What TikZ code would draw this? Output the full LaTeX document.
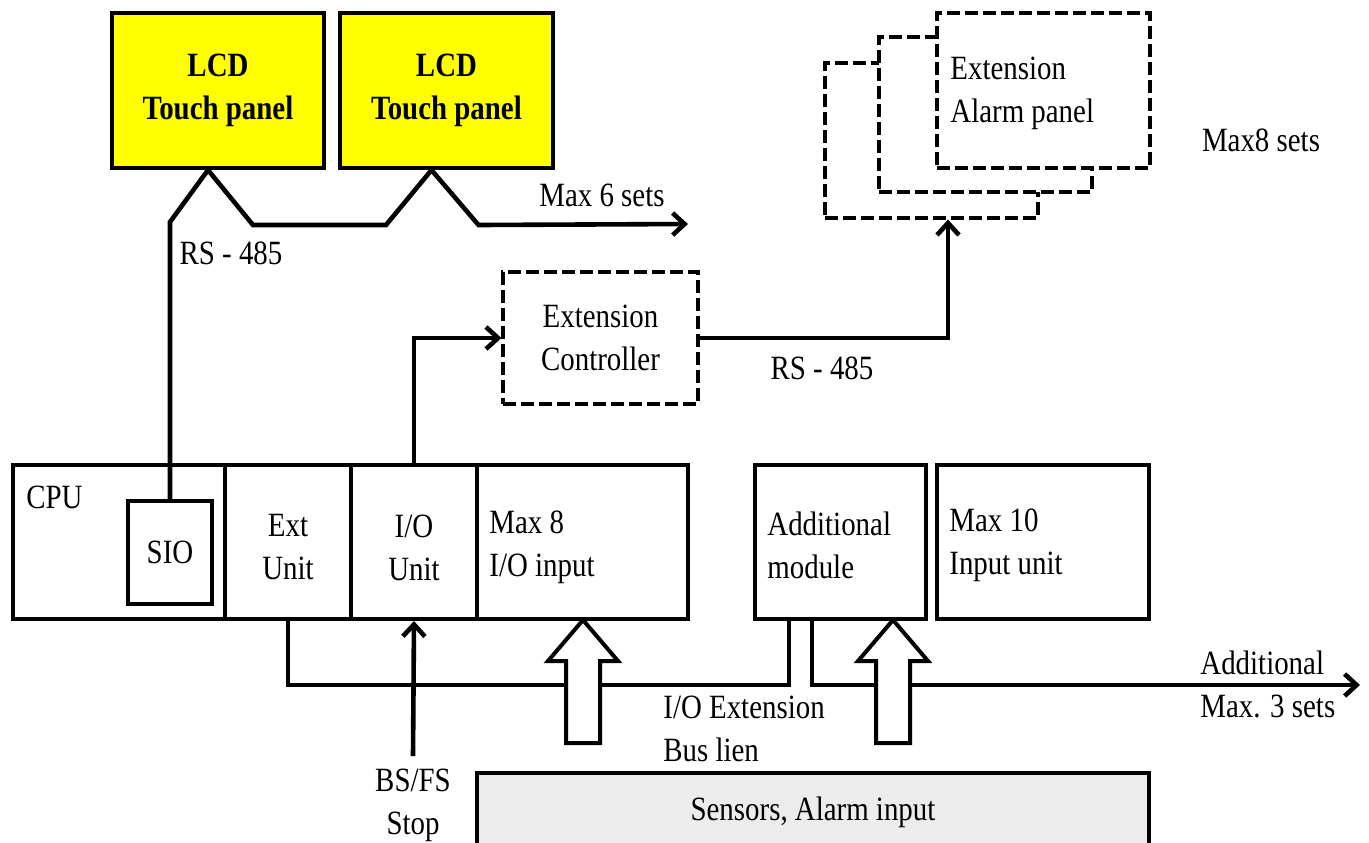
\documentclass[tikz,border=0pt]{standalone}
\usepackage{fontspec}
\setmainfont{Liberation Serif}[FakeStretch=0.85]
\usetikzlibrary{arrows.meta}
\definecolor{lcdyellow}{HTML}{FFFF00}
\definecolor{sensgray}{HTML}{ECECEC}
\tikzset{
  every node/.style={font=\fontsize{17}{21.5}\selectfont, inner sep=0pt},
  box/.style={draw, line width=2pt},
  dbox/.style={draw, fill=white, line width=1.6pt, dash pattern=on 6.5pt off 2.5pt},
  wire/.style={line width=2.3pt},
  arr/.style={wire, -{Straight Barb[length=6pt,width=11pt,line width=2.3pt]}},
  blockarrow/.style={draw, fill=white, line width=2pt, line join=miter},
  lbl/.style={align=center},
  lbll/.style={align=left, anchor=west}
}
\begin{document}
\begin{tikzpicture}[x=0.5pt,y=-0.5pt]
\clip (0,0) rectangle (1369,842);
\fill[white] (0,0) rectangle (1369,842);

% LCD panels
\node[box, fill=lcdyellow, minimum width=106pt, minimum height=77.5pt, lbl, font=\fontsize{17}{21.5}\selectfont\bfseries] (lcd1) at (218,90.5) {LCD\\Touch panel};
\node[box, fill=lcdyellow, minimum width=106.5pt, minimum height=77.5pt, lbl, font=\fontsize{17}{21.5}\selectfont\bfseries] (lcd2) at (446.5,90.5) {LCD\\Touch panel};

% Extension alarm panels (back to front)
\node[dbox, minimum width=106.5pt, minimum height=77.5pt] (panel3) at (931.5,140.5) {};
\node[dbox, minimum width=106.5pt, minimum height=77.5pt] (panel2) at (985.5,114.5) {};
\node[dbox, minimum width=106.5pt, minimum height=77.5pt] (panel1) at (1043.5,90.5) {};
\node[lbll] (paneltxt) at (950,93) {Extension\\Alarm panel};
\node[lbl] (max8sets) at (1261,140) {Max8 sets};

% Extension controller
\node[dbox, minimum width=97.5pt, minimum height=66pt, lbl] (extc) at (600.5,338) {Extension\\Controller};

% CPU row
\node[box, minimum width=106pt, minimum height=77pt] (cpu) at (119,542) {};
\node[box, minimum width=63pt, minimum height=77pt] (ext) at (288,542) {};
\node[box, minimum width=63pt, minimum height=77pt] (io) at (414,542) {};
\node[box, minimum width=105.5pt, minimum height=77pt] (max8) at (582.5,542) {};
\node[anchor=west] (cputxt) at (26,497) {CPU};
\node[lbl] (exttxt) at (288,547.5) {Ext\\Unit};
\node[lbl] (iotxt) at (414,547.5) {I/O\\Unit};
\node[box, minimum width=42pt, minimum height=51.5pt] (sio) at (170,552.5) {SIO};
\node[lbll] (max8txt) at (489,547.5) {Max 8\\I/O input};

\node[box, minimum width=85.5pt, minimum height=77pt] (addl) at (840.5,542) {};
\node[lbll] (addltxt) at (767,545) {Additional\\module};
\node[box, minimum width=106pt, minimum height=77pt] (max10) at (1043,542) {};
\node[lbll] (max10txt) at (949,545) {Max 10\\Input unit};

% Sensors
\node[box, fill=sensgray, minimum width=336pt, minimum height=39pt] (sens) at (813,812) {Sensors, Alarm input};

% labels
\node[lbl] (max6) at (602,195) {Max 6 sets};
\node[lbl] (rs1) at (231,253) {RS - 485};
\node[lbl] (rs2) at (822,368) {RS - 485};
\node[lbll] (busl) at (663,728.5) {I/O Extension\\Bus lien};
\node[lbll] (addmax) at (1200,684.5) {Additional\\Max. 3 sets};
\node[lbl] (bsfs) at (413,805.5) {BS/FS\\Stop};

% coordinates
\coordinate (p1) at ([xshift=-5pt]lcd1.south);
\coordinate (p2) at ([xshift=-7.5pt]lcd2.south);
\coordinate (max6end) at (688,224);
\coordinate (bus) at (0,685);
\coordinate (a1) at ([xshift=-25.75pt]addl.south);
\coordinate (a2) at ([xshift=-14.25pt]addl.south);
\coordinate (addend) at (1360,685);
\coordinate (bsbot) at (413,756);
\coordinate (ptip) at ([xshift=8.25pt]panel3.south);

% RS-485 chain to LCD panels
\draw[arr, line join=miter] (sio.north) -- ++(0,-277) -- (p1) -- ++(45,55) -- ++(133,0) -- (p2) -- ++(47,55) -- (max6end);

% I/O unit to extension controller
\draw[arr] (io.north) |- (extc.west);
% extension controller to alarm panels
\draw[arr] (extc.east) -| (ptip);

% Bus lines
\draw[wire] (ext.south) |- (a1 |- bus) -- (a1);
\draw[arr] (a2) |- (addend);

% BS/FS arrow
\draw[arr] (bsbot) -- (io.south);

% block arrows
\draw[blockarrow] (583,620) -- (618,661) -- (600,661) -- (600,743) -- (566,743) -- (566,661) -- (548,661) -- cycle;
\draw[blockarrow] (893,620) -- (928,661) -- (910,661) -- (910,743) -- (876,743) -- (876,661) -- (858,661) -- cycle;
\end{tikzpicture}
\end{document}
